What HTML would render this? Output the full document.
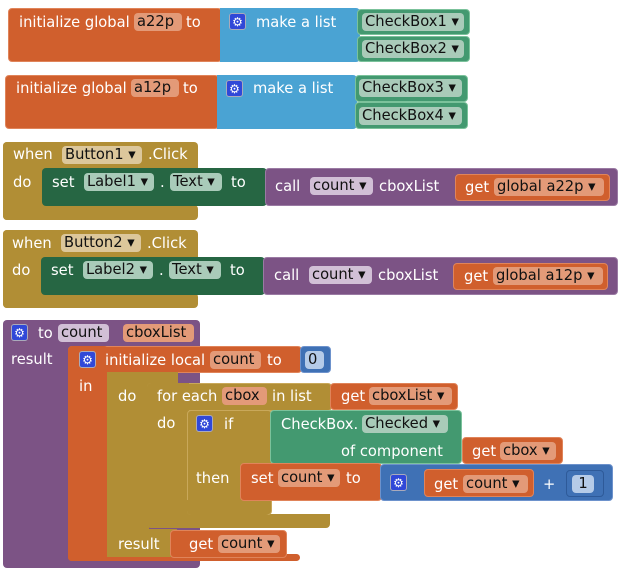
<!DOCTYPE html>
<html><head><meta charset="utf-8"><style>
body{margin:0;width:634px;height:574px;background:#fff;position:relative;overflow:hidden;font-family:"DejaVu Sans","Liberation Sans",sans-serif;font-size:14.7px;}
.b{position:absolute;border-radius:4px;box-sizing:border-box}
.t{position:absolute;color:#fff;white-space:nowrap;line-height:18px}
.f{position:absolute;border-radius:4px;color:#111;white-space:nowrap;line-height:18px;padding:0 3px;box-sizing:border-box;overflow:hidden}
.g{position:absolute;width:17px;height:17px;background:#3048d8;border:1px solid #aab;border-radius:3px;color:#fff;font-size:12px;line-height:16px;text-align:center;box-sizing:border-box}
.o{background:#d05f2d;border:1px solid #e0845a}
.bl{background:#4aa3d3}
.gr{background:#439970;border:1px solid #7bc29b}
.dg{background:#266643}
.go{background:#b18e35}
.pu{background:#7c5385}
.mb{background:#3f71b5;border:1px solid #6d92cc}
.fo{background:#e39a78}
.fg{background:#a9cbb9}
.fy{background:#dcc79b}
.fp{background:#d1bfd6}
.fb{background:#b5cbe8}
</style></head><body>
<!-- global a22p -->
<div class="b o" style="left:8px;top:8px;width:214px;height:54px"></div>
<div class="t" style="left:19px;top:14px">initialize global</div>
<div class="f fo" style="left:134px;top:13px;width:48px">a22p</div>
<div class="t" style="left:186px;top:14px">to</div>
<div class="b bl" style="left:220px;top:8px;width:140px;height:54px;border-radius:0 4px 4px 0"></div>
<div class="g" style="left:229px;top:13px">⚙</div>
<div class="t" style="left:256px;top:14px">make a list</div>
<div class="b gr" style="left:357px;top:9px;width:113px;height:26px"></div>
<div class="f fg" style="left:362px;top:13px;width:102px">CheckBox1 ▾</div>
<div class="b gr" style="left:357px;top:36px;width:113px;height:26px"></div>
<div class="f fg" style="left:362px;top:40px;width:102px">CheckBox2 ▾</div>
<!-- global a12p -->
<div class="b o" style="left:5px;top:75px;width:214px;height:54px"></div>
<div class="t" style="left:16px;top:80px">initialize global</div>
<div class="f fo" style="left:131px;top:79px;width:48px">a12p</div>
<div class="t" style="left:183px;top:80px">to</div>
<div class="b bl" style="left:217px;top:75px;width:140px;height:54px;border-radius:0 4px 4px 0"></div>
<div class="g" style="left:226px;top:80px">⚙</div>
<div class="t" style="left:253px;top:80px">make a list</div>
<div class="b gr" style="left:355px;top:75px;width:113px;height:27px"></div>
<div class="f fg" style="left:359px;top:79px;width:103px">CheckBox3 ▾</div>
<div class="b gr" style="left:355px;top:102px;width:113px;height:27px"></div>
<div class="f fg" style="left:359px;top:107px;width:103px">CheckBox4 ▾</div>
<!-- Button1 -->
<div class="b go" style="left:3px;top:142px;width:195px;height:27px;border-radius:4px 4px 0 0"></div>
<div class="b go" style="left:3px;top:142px;width:42px;height:78px"></div>
<div class="b go" style="left:3px;top:205px;width:195px;height:15px"></div>
<div class="t" style="left:13px;top:146px">when</div>
<div class="f fy" style="left:62px;top:146px;width:80px">Button1 ▾</div>
<div class="t" style="left:148px;top:146px">.Click</div>
<div class="t" style="left:13px;top:174px">do</div>
<div class="b dg" style="left:42px;top:168px;width:225px;height:38px"></div>
<div class="t" style="left:52px;top:174px">set</div>
<div class="f fg" style="left:84px;top:173px;width:70px">Label1 ▾</div>
<div class="t" style="left:160px;top:174px">.</div>
<div class="f fg" style="left:170px;top:173px;width:52px">Text ▾</div>
<div class="t" style="left:231px;top:174px">to</div>
<div class="b pu" style="left:265px;top:168px;width:353px;height:38px;border:1px solid #9a7aa3"></div>
<div class="t" style="left:275px;top:178px">call</div>
<div class="f fp" style="left:310px;top:177px;width:63px">count ▾</div>
<div class="t" style="left:379px;top:178px">cboxList</div>
<div class="b o" style="left:455px;top:174px;width:155px;height:27px"></div>
<div class="t" style="left:465px;top:179px">get</div>
<div class="f fo" style="left:494px;top:178px;width:110px">global a22p ▾</div>
<!-- Button2 -->
<div class="b go" style="left:3px;top:230px;width:195px;height:27px;border-radius:4px 4px 0 0"></div>
<div class="b go" style="left:3px;top:230px;width:42px;height:78px"></div>
<div class="b go" style="left:3px;top:293px;width:195px;height:15px"></div>
<div class="t" style="left:12px;top:235px">when</div>
<div class="f fy" style="left:61px;top:234px;width:80px">Button2 ▾</div>
<div class="t" style="left:147px;top:235px">.Click</div>
<div class="t" style="left:12px;top:262px">do</div>
<div class="b dg" style="left:41px;top:257px;width:224px;height:38px"></div>
<div class="t" style="left:51px;top:262px">set</div>
<div class="f fg" style="left:83px;top:261px;width:70px">Label2 ▾</div>
<div class="t" style="left:159px;top:262px">.</div>
<div class="f fg" style="left:169px;top:261px;width:52px">Text ▾</div>
<div class="t" style="left:230px;top:262px">to</div>
<div class="b pu" style="left:263px;top:257px;width:355px;height:38px;border:1px solid #9a7aa3"></div>
<div class="t" style="left:274px;top:267px">call</div>
<div class="f fp" style="left:309px;top:266px;width:63px">count ▾</div>
<div class="t" style="left:378px;top:267px">cboxList</div>
<div class="b o" style="left:453px;top:263px;width:155px;height:27px"></div>
<div class="t" style="left:464px;top:268px">get</div>
<div class="f fo" style="left:493px;top:267px;width:110px">global a12p ▾</div>
<!-- procedure -->
<div class="b pu" style="left:3px;top:320px;width:197px;height:248px"></div>
<div class="g" style="left:11px;top:324px">⚙</div>
<div class="t" style="left:38px;top:325px">to</div>
<div class="f fp" style="left:58px;top:324px;width:51px">count</div>
<div class="f fo" style="left:123px;top:324px;width:71px">cboxList</div>
<div class="t" style="left:11px;top:351px">result</div>
<div class="b o" style="left:68px;top:346px;width:234px;height:27px"></div>
<div class="b o" style="left:68px;top:346px;width:40px;height:215px;border:0"></div>
<div class="b o" style="left:68px;top:554px;width:232px;height:7px;border:0"></div>
<div class="g" style="left:79px;top:351px">⚙</div>
<div class="t" style="left:105px;top:352px">initialize local</div>
<div class="f fo" style="left:210px;top:351px;width:51px">count</div>
<div class="t" style="left:267px;top:352px">to</div>
<div class="b mb" style="left:300px;top:346px;width:31px;height:27px"></div>
<div class="f fb" style="left:305px;top:351px;width:19px">0</div>
<div class="t" style="left:79px;top:378px">in</div>
<!-- do block -->
<div class="b go" style="left:107px;top:372px;width:71px;height:12px;border-radius:0"></div>
<div class="b go" style="left:107px;top:372px;width:42px;height:185px;border-radius:0"></div>
<div class="b go" style="left:107px;top:529px;width:70px;height:28px;border-radius:0"></div>
<div class="t" style="left:118px;top:388px">do</div>
<div class="t" style="left:118px;top:536px">result</div>
<div class="b o" style="left:170px;top:530px;width:117px;height:28px"></div>
<div class="t" style="left:189px;top:536px">get</div>
<div class="f fo" style="left:218px;top:535px;width:62px">count ▾</div>
<!-- for each -->
<div class="b go" style="left:147px;top:383px;width:185px;height:28px;border:1px solid #c9a85a"></div>
<div class="b go" style="left:147px;top:383px;width:42px;height:145px;border-radius:4px 0 0 4px"></div>
<div class="b go" style="left:147px;top:514px;width:183px;height:14px;border-radius:0 0 4px 4px"></div>
<div class="t" style="left:157px;top:388px">for each</div>
<div class="f fo" style="left:222px;top:387px;width:45px">cbox</div>
<div class="t" style="left:272px;top:388px">in list</div>
<div class="b o" style="left:330px;top:383px;width:128px;height:27px"></div>
<div class="t" style="left:341px;top:388px">get</div>
<div class="f fo" style="left:369px;top:387px;width:83px">cboxList ▾</div>
<div class="t" style="left:157px;top:415px">do</div>
<!-- if -->
<div class="b go" style="left:187px;top:410px;width:85px;height:105px;border:1px solid #c9a85a"></div>
<div class="b go" style="left:187px;top:500px;width:83px;height:15px;border-radius:0 0 4px 4px"></div>
<div class="g" style="left:196px;top:415px">⚙</div>
<div class="t" style="left:224px;top:416px">if</div>
<div class="t" style="left:196px;top:470px">then</div>
<div class="b gr" style="left:270px;top:410px;width:192px;height:54px"></div>
<div class="t" style="left:281px;top:416px">CheckBox.</div>
<div class="f fg" style="left:362px;top:415px;width:86px">Checked ▾</div>
<div class="t" style="left:341px;top:443px">of component</div>
<div class="b o" style="left:462px;top:437px;width:101px;height:27px"></div>
<div class="t" style="left:472px;top:443px">get</div>
<div class="f fo" style="left:500px;top:442px;width:56px">cbox ▾</div>
<div class="b o" style="left:240px;top:463px;width:142px;height:38px"></div>
<div class="t" style="left:251px;top:470px">set</div>
<div class="f fo" style="left:278px;top:469px;width:62px">count ▾</div>
<div class="t" style="left:346px;top:470px">to</div>
<div class="b mb" style="left:380px;top:464px;width:233px;height:37px"></div>
<div class="g" style="left:390px;top:474px">⚙</div>
<div class="b o" style="left:424px;top:469px;width:110px;height:28px"></div>
<div class="t" style="left:434px;top:476px">get</div>
<div class="f fo" style="left:463px;top:475px;width:65px">count ▾</div>
<div class="t" style="left:543px;top:476px">+</div>
<div class="b mb" style="left:566px;top:470px;width:38px;height:27px;border-color:#2e5a99"></div>
<div class="f fb" style="left:572px;top:475px;width:22px;text-align:center">1</div>
</body></html>
